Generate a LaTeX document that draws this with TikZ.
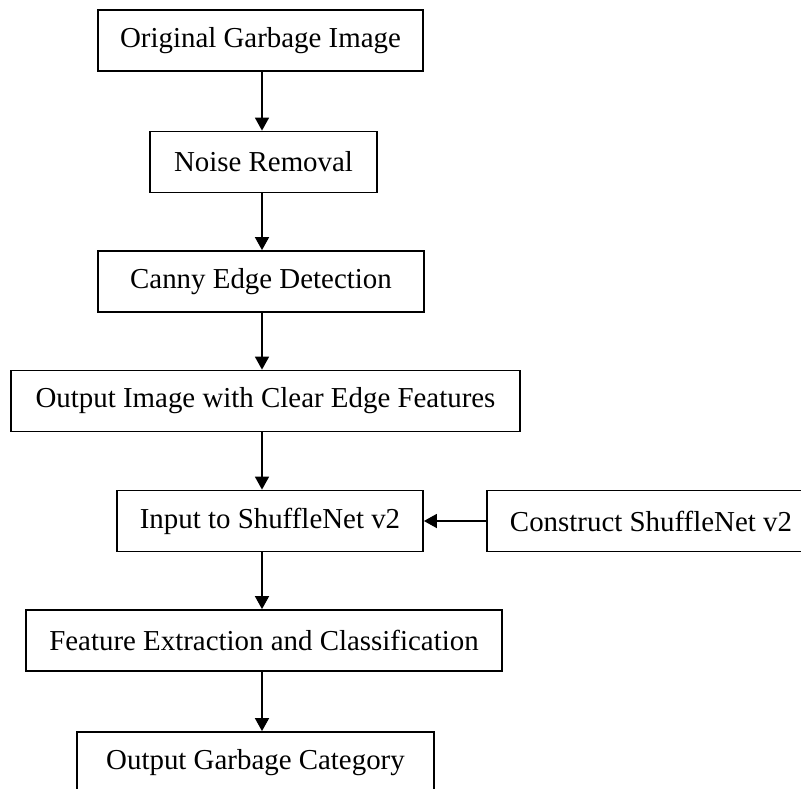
\documentclass[tikz,border=0pt]{standalone}
\usepackage{fontspec}
\setmainfont{Liberation Serif}
\usetikzlibrary{arrows.meta,shapes}
\tikzstyle{stage}=[draw,rectangle,line width=1.8pt,minimum height=61pt,inner sep=0pt,font=\fontsize{28.9}{34}\selectfont]
\tikzstyle{arr} = [draw,line width=1.7pt,-{Triangle[length=13pt,width=14pt]}]

\begin{document}
\begin{tikzpicture}[x=1pt,y=-1pt]
    \clip (0,0) rectangle (801,789);
    \fill[white] (0,0) rectangle (801,789);
    \coordinate (axis) at (262,0);

    \foreach \pos/\name/\bw/\txt in {{(260.5,40.5)/orig/325/Original Garbage Image},
    {(263.5,162)/noise/227/Noise Removal}, {(261,281.5)/canny/326/Canny Edge Detection},
    {(265.5,401)/edges/509/Output Image with Clear Edge Features},
    {(270,521)/input/306/Input to ShuffleNet v2}, {(651,521)/construct/328/Construct ShuffleNet v2},
    {(264,640.5)/feature/476/Feature Extraction and Classification},
    {(255.5,762.5)/category/357/Output Garbage Category}}
        \node[stage,minimum width=\bw pt] (\name) at \pos {\txt};

    \foreach \source/ \dest in
    {orig/noise,noise/canny,canny/edges,edges/input,input/feature,feature/category}
        \path[arr] (\source.south -| axis) -- (\dest.north -| axis);
    \path[arr] (construct) -- (input);
\end{tikzpicture}
\end{document}
